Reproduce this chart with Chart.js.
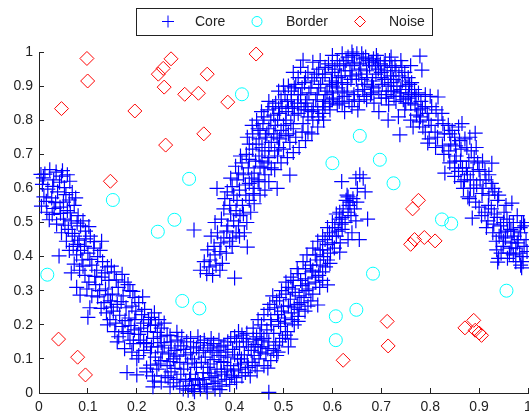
<!DOCTYPE html>
<html>
<head>
<meta charset="utf-8">
<script src="https://cdn.jsdelivr.net/npm/chart.js@4"></script>
<style>
  html, body { margin: 0; padding: 0; background: #fff; }
  #wrap { width: 529px; height: 412px; }
</style>
</head>
<body>
<div id="wrap"><canvas id="dataChart" width="529" height="412"></canvas></div>
<script>
// values, [x, y]
const noisePoints = [
  [.046,.834],[.098,.981],[.0995,.915],[.196,.827],[.244,.935],[.254,.952],[.27,.98],[.256,.897],
  [.259,.727],[.298,.876],[.326,.879],[.344,.935],[.337,.76],[.386,.853],[.444,.994],[.146,.621],
  [.04,.158],[.079,.105],[.095,.053],[.622,.096],[.712,.21],[.714,.138],[.76,.436],[.768,.45],
  [.788,.456],[.81,.446],[.764,.54],[.776,.565],[.871,.191],[.889,.213],[.892,.184],[.9,.176],[.905,.169]
];
const borderPoints = [
  [.415,.876],[.307,.628],[.151,.566],[.656,.754],[.6,.674],[.697,.684],[.725,.615],[.017,.347],
  [.243,.473],[.277,.508],[.293,.27],[.328,.248],[.683,.35],[.649,.244],[.607,.225],[.607,.155],
  [.824,.509],[.843,.497],[.956,.3]
];
// lower band of the core cloud, left to right
const coreLower = [
  [.004,.641],[.012,.642],[.022,.655],[.035,.648],[.048,.652],[.058,.64],[.007,.612],[.018,.598],[.03,.625],[.042,.618],
  [.052,.602],[.063,.621],[.068,.588],[.01,.575],[.026,.572],[.038,.59],[.05,.56],[.062,.566],[.005,.548],[.016,.53],
  [.031,.541],[.044,.527],[.058,.535],[.072,.55],[.021,.508],[.036,.495],[.05,.51],[.066,.505],[.08,.52],[.046,.47],
  [.06,.48],[.073,.46],[.085,.49],[.095,.475],[.041,.402],[.056,.445],[.07,.43],[.082,.448],[.093,.43],[.105,.46],
  [.077,.405],[.088,.39],[.1,.41],[.112,.425],[.12,.4],[.128,.445],[.066,.352],[.083,.36],[.094,.345],[.108,.375],
  [.118,.36],[.13,.385],[.14,.37],[.102,.325],[.116,.318],[.128,.34],[.143,.33],[.154,.355],[.108,.285],[.124,.3],
  [.136,.305],[.15,.29],[.162,.31],[.175,.325],[.133,.265],[.146,.27],[.16,.26],[.172,.285],[.186,.3],[.196,.28],
  [.138,.235],[.152,.24],[.165,.228],[.178,.25],[.19,.255],[.204,.265],[.216,.245],[.157,.205],[.17,.195],[.184,.22],
  [.196,.215],[.21,.23],[.224,.215],[.236,.235],[.163,.165],[.182,.175],[.195,.185],[.208,.19],[.222,.18],[.238,.2],
  [.25,.19],[.193,.145],[.207,.155],[.22,.145],[.234,.16],[.248,.165],[.262,.17],[.214,.125],[.228,.118],[.243,.135],
  [.256,.14],[.27,.15],[.284,.155],[.265,.115],[.278,.125],[.29,.138],[.302,.15],[.316,.135],[.33,.148],[.345,.14],
  [.357,.145],[.372,.135],[.386,.15],[.4,.165],[.415,.17],[.249,.095],[.262,.08],[.275,.1],[.288,.09],[.3,.112],
  [.313,.1],[.327,.118],[.34,.105],[.354,.12],[.368,.11],[.382,.12],[.396,.128],[.41,.135],[.424,.15],[.438,.158],
  [.22,.062],[.232,.05],[.241,.07],[.258,.05],[.27,.062],[.282,.04],[.296,.07],[.31,.055],[.322,.075],[.336,.06],
  [.35,.085],[.364,.07],[.378,.09],[.392,.08],[.406,.1],[.42,.112],[.434,.125],[.448,.135],[.275,.03],[.288,.02],
  [.3,.035],[.312,.022],[.325,.038],[.338,.025],[.352,.045],[.366,.035],[.38,.055],[.394,.05],[.408,.07],[.422,.06],
  [.436,.09],[.45,.1],[.464,.115],[.305,.008],[.318,.004],[.33,.012],[.344,.003],[.36,.012],[.374,.02],[.39,.025],
  [.404,.032],[.47,.002],[.432,.05],[.446,.065],[.46,.08],[.474,.095],[.486,.11],[.456,.135],[.47,.15],[.484,.14],
  [.498,.16],[.51,.135],[.438,.19],[.452,.175],[.466,.185],[.48,.175],[.494,.195],[.508,.18],[.522,.2],[.448,.215],
  [.46,.23],[.474,.215],[.488,.23],[.502,.22],[.516,.235],[.53,.225],[.544,.24],[.472,.26],[.486,.27],[.5,.255],
  [.514,.275],[.528,.26],[.542,.28],[.556,.27],[.496,.3],[.51,.31],[.524,.295],[.538,.315],[.552,.305],[.566,.325],
  [.58,.33],[.515,.34],[.53,.35],[.545,.335],[.558,.355],[.572,.345],[.586,.37],[.54,.385],[.555,.375],[.568,.39],
  [.582,.4],[.596,.41],[.56,.425],[.575,.42],[.59,.435],[.604,.425],[.616,.44],[.58,.46],[.594,.47],[.608,.46],
  [.62,.48],[.6,.5],[.614,.51],[.626,.5],[.638,.52],[.622,.54],[.634,.55],[.645,.54],[.628,.565],[.642,.57],
  [.651,.6],[.648,.63],[.656,.64],
  // second pass over the same band, the cloud is much denser than one sweep
  [.009,.631],[.028,.606],[.046,.636],[.015,.562],[.034,.558],[.055,.582],[.075,.572],[.027,.524],[.043,.545],[.064,.528],
  [.078,.498],[.053,.492],[.068,.468],[.09,.505],[.102,.488],[.062,.418],[.079,.436],[.096,.452],[.113,.444],[.085,.418],
  [.104,.392],[.125,.418],[.072,.378],[.09,.372],[.114,.342],[.135,.352],[.148,.372],[.098,.305],[.12,.282],[.141,.288],
  [.158,.332],[.17,.348],[.182,.318],[.127,.248],[.148,.252],[.168,.268],[.192,.298],[.212,.282],[.145,.215],[.176,.212],
  [.198,.24],[.214,.205],[.23,.222],[.245,.215],[.172,.18],[.188,.198],[.204,.172],[.228,.198],[.242,.178],[.256,.205],
  [.186,.155],[.214,.148],[.23,.135],[.25,.148],[.268,.168],[.282,.178],[.204,.11],[.238,.105],[.252,.12],[.27,.132],
  [.292,.165],[.31,.16],[.325,.165],[.338,.155],[.352,.16],[.368,.155],[.392,.16],[.408,.18],[.425,.175],[.228,.082],
  [.245,.085],[.268,.092],[.282,.108],[.296,.128],[.31,.118],[.322,.132],[.336,.125],[.35,.132],[.364,.125],[.378,.14],
  [.404,.15],[.418,.16],[.236,.035],[.25,.032],[.264,.045],[.278,.072],[.29,.055],[.304,.085],[.318,.088],[.332,.09],
  [.345,.075],[.358,.098],[.372,.092],[.386,.105],[.4,.112],[.414,.1],[.428,.135],[.442,.142],[.455,.155],[.268,.018],
  [.295,.012],[.308,.04],[.32,.042],[.335,.04],[.348,.058],[.36,.05],[.373,.062],[.385,.07],[.398,.065],[.412,.085],
  [.426,.09],[.44,.11],[.453,.12],[.315,.012],[.328,.025],[.342,.018],[.356,.028],[.37,.01],[.383,.04],[.4,.045],
  [.415,.05],[.428,.075],[.442,.08],[.468,.13],[.48,.125],[.492,.15],[.504,.17],[.515,.158],[.445,.165],[.46,.16],
  [.475,.2],[.49,.21],[.504,.205],[.518,.215],[.532,.245],[.455,.2],[.468,.245],[.482,.25],[.496,.24],[.51,.255],
  [.522,.25],[.536,.265],[.55,.255],[.478,.285],[.492,.28],[.505,.29],[.518,.305],[.532,.285],[.546,.3],[.56,.29],
  [.574,.31],[.505,.325],[.52,.33],[.535,.33],[.55,.32],[.565,.34],[.58,.355],[.595,.38],[.528,.365],[.545,.365],
  [.56,.36],[.575,.375],[.59,.39],[.548,.405],[.565,.405],[.58,.42],[.6,.44],[.57,.445],[.585,.45],[.6,.46],
  [.612,.475],[.59,.485],[.605,.485],[.618,.495],[.608,.525],[.62,.515],[.632,.53],[.615,.53],[.636,.56],[.63,.58],
  // stragglers along the band edges
  [.104,.25],[.1,.222],[.084,.287],[.077,.31],[.16,.15],[.18,.06],[.2,.053],[.233,.018],[.22,.073],[.2,.1],
  [.489,.12],[.468,.073],[.53,.21],[.57,.258],[.59,.317],[.615,.413],[.632,.45],[.655,.45],[.672,.51],[.648,.505],
  [.64,.47],[.632,.575],[.619,.62],[.663,.63],[.667,.59],[.65,.56],[.175,.13],[.19,.12],[.155,.18],[.14,.2]
];
// upper band of the core cloud, left to right
const coreUpper = [
  [.317,.478],[.426,.428],[.4,.337],[.33,.36],[.343,.35],[.355,.345],[.37,.36],[.338,.385],[.35,.39],[.362,.375],
  [.375,.38],[.345,.42],[.358,.43],[.37,.415],[.383,.41],[.395,.43],[.352,.46],[.365,.47],[.378,.455],[.39,.445],
  [.403,.47],[.36,.5],[.373,.51],[.386,.49],[.398,.505],[.411,.52],[.378,.54],[.39,.55],[.403,.535],[.416,.55],
  [.364,.6],[.385,.59],[.398,.58],[.41,.595],[.423,.58],[.392,.63],[.405,.625],[.418,.64],[.43,.615],[.44,.6],
  [.402,.665],[.415,.675],[.428,.66],[.44,.645],[.452,.665],[.426,.75],[.424,.7],[.437,.715],[.45,.695],[.462,.71],
  [.437,.76],[.45,.745],[.463,.75],[.475,.735],[.487,.75],[.445,.8],[.458,.79],[.47,.775],[.483,.785],[.495,.77],
  [.455,.825],[.468,.83],[.48,.815],[.492,.82],[.505,.8],[.47,.855],[.484,.85],[.497,.84],[.51,.835],[.522,.815],
  [.49,.885],[.503,.875],[.516,.86],[.529,.85],[.542,.83],[.51,.9],[.522,.895],[.535,.875],[.548,.86],[.561,.84],
  [.53,.925],[.543,.91],[.556,.895],[.569,.875],[.582,.855],[.55,.94],[.563,.925],[.576,.905],[.589,.885],[.602,.865],
  [.572,.95],[.585,.935],[.598,.915],[.611,.895],[.624,.87],[.592,.965],[.605,.95],[.618,.93],[.631,.905],[.644,.875],
  [.61,.975],[.623,.965],[.636,.945],[.649,.92],[.662,.89],[.632,.985],[.645,.97],[.658,.95],[.671,.925],[.684,.895],
  [.65,.995],[.663,.98],[.676,.96],[.689,.935],[.702,.905],[.668,.985],[.681,.97],[.694,.95],[.707,.92],[.72,.885],
  [.693,.975],[.706,.96],[.719,.93],[.732,.9],[.745,.86],[.717,.975],[.73,.945],[.743,.915],[.756,.88],[.769,.845],
  [.742,.955],[.755,.925],[.768,.89],[.781,.855],[.794,.82],[.758,.905],[.771,.87],[.784,.835],[.797,.8],[.81,.765],
  [.735,.81],[.748,.83],[.76,.8],[.772,.815],[.785,.78],[.798,.745],[.811,.72],[.79,.875],[.803,.84],[.816,.8],
  [.829,.76],[.842,.73],[.824,.82],[.837,.785],[.85,.75],[.863,.715],[.828,.7],[.84,.675],[.853,.695],[.866,.66],
  [.879,.68],[.858,.78],[.871,.745],[.884,.71],[.897,.675],[.85,.635],[.863,.62],[.876,.64],[.889,.6],[.902,.625],
  [.881,.75],[.894,.72],[.907,.68],[.92,.64],[.88,.57],[.893,.56],[.906,.585],[.919,.55],[.932,.59],[.912,.65],
  [.925,.615],[.938,.565],[.951,.53],[.905,.52],[.918,.505],[.931,.525],[.944,.49],[.957,.51],[.97,.475],[.928,.47],
  [.941,.46],[.954,.455],[.967,.44],[.98,.45],[.993,.49],[.936,.42],[.949,.43],[.962,.41],[.975,.425],[.988,.4],
  [.94,.395],[.975,.385],[.985,.375],[.998,.415],[.965,.48],[.978,.52],[.991,.5],[.85,.66],[.868,.6],[.882,.625],
  [.61,.845],[.625,.825],[.64,.84],[.655,.855],[.67,.86],[.685,.85],[.7,.865],[.715,.845],[.73,.855],[.695,.825],
  [.6,.9],[.58,.82],[.56,.8],[.54,.79],[.52,.775],[.505,.755],[.49,.72],[.47,.69],[.55,.765],[.595,.83],
  [.66,.92],[.68,.9],[.7,.94],[.72,.91],[.64,.93],[.62,.91],[.6,.94],[.74,.89],[.76,.85],[.78,.81],
  // second pass, fills the inside of the arc
  [.348,.37],[.36,.405],[.372,.44],[.384,.475],[.396,.455],[.408,.49],[.392,.525],[.405,.565],[.418,.525],[.43,.565],
  [.38,.57],[.395,.605],[.408,.645],[.422,.61],[.435,.63],[.448,.625],[.412,.695],[.43,.685],[.443,.68],[.456,.68],
  [.468,.675],[.43,.73],[.444,.73],[.456,.72],[.47,.72],[.482,.71],[.436,.785],[.452,.77],[.466,.76],[.48,.76],
  [.492,.745],[.448,.775],[.46,.81],[.474,.8],[.488,.8],[.5,.785],[.515,.79],[.478,.84],[.49,.835],[.505,.825],
  [.518,.835],[.53,.82],[.495,.86],[.508,.855],[.522,.84],[.536,.84],[.55,.81],[.5,.9],[.516,.885],[.53,.875],
  [.545,.85],[.558,.825],[.572,.81],[.525,.905],[.538,.895],[.552,.88],[.566,.86],[.58,.84],[.594,.85],[.545,.925],
  [.558,.915],[.572,.895],[.585,.875],[.6,.88],[.614,.855],[.568,.935],[.58,.925],[.594,.905],[.608,.91],[.62,.885],
  [.634,.855],[.585,.955],[.6,.96],[.612,.925],[.626,.945],[.638,.92],[.652,.885],[.615,.96],[.628,.975],[.64,.96],
  [.654,.935],[.666,.905],[.678,.875],[.642,.99],[.656,.965],[.67,.945],[.682,.915],[.695,.885],[.71,.865],[.66,.995],
  [.674,.975],[.688,.96],[.7,.925],[.714,.9],[.726,.87],[.684,.98],[.698,.965],[.712,.945],[.725,.92],[.738,.88],
  [.75,.85],[.708,.975],[.722,.955],[.736,.93],[.75,.9],[.762,.875],[.775,.83],[.728,.96],[.748,.94],[.762,.91],
  [.776,.88],[.79,.84],[.765,.78],[.778,.795],[.79,.765],[.802,.785],[.815,.75],[.825,.725],[.812,.83],[.826,.79],
  [.84,.76],[.852,.725],[.838,.71],[.85,.68],[.862,.68],[.874,.66],[.888,.65],[.845,.77],[.86,.74],[.875,.72],
  [.89,.69],[.9,.655],[.858,.65],[.87,.625],[.882,.6],[.895,.61],[.908,.6],[.92,.58],[.914,.625],[.928,.6],
  [.94,.58],[.955,.55],[.9,.545],[.912,.53],[.925,.54],[.937,.515],[.95,.5],[.962,.5],[.915,.485],[.93,.495],
  [.945,.47],[.958,.475],[.972,.46],[.985,.47],[.935,.445],[.95,.445],[.965,.425],[.978,.44],[.992,.43],[.945,.41],
  [.958,.395],[.97,.405],[.983,.41],[.996,.45],[.97,.5],[.984,.485],[.99,.385],[.665,.87],[.68,.88],[.71,.875],
  [.725,.885],[.74,.87],[.755,.865],[.63,.88],[.645,.86],[.62,.85],[.6,.86],[.585,.84],[.57,.83],[.55,.83],
  // inner side of the rising arm and the outer rim of the arc
  [.41,.46],[.425,.5],[.433,.53],[.44,.555],[.452,.58],[.462,.595],[.47,.62],[.487,.6],[.513,.639],[.482,.655],
  [.495,.675],[.508,.69],[.52,.705],[.532,.72],[.545,.74],[.558,.76],[.57,.78],[.582,.8],[.462,.64],[.475,.66],
  [.488,.695],[.5,.715],[.513,.735],[.525,.75],[.538,.765],[.45,.62],[.438,.585],[.42,.47],[.46,.66],[.51,.76],
  [.52,.94],[.535,.955],[.54,.976],[.56,.97],[.575,.975],[.6,.99],[.62,.995],[.64,1],[.69,.99],[.72,.985],
  [.74,.975],[.76,.96],[.783,.947],[.779,.988],[.652,.83],[.714,.8],[.738,.757],[.795,.733],[.83,.645],[.877,.575],
  [.816,.868],[.865,.79],[.892,.762],[.926,.674],[.967,.557],[.886,.513],[.938,.384],[.987,.367],[.987,.5],[.8,.87]
];
const tickVals = [0, .1, .2, .3, .4, .5, .6, .7, .8, .9, 1];
const legendNames = ['Core', 'Border', 'Noise'];

const toXY = p => ({ x: p[0], y: p[1] });

// legend box of the original figure, marker and label placed by hand
const legendBox = {
  id: 'legendBox',
  afterDraw(chart) {
    const c = chart.ctx;
    const items = [
      { style: 'cross', color: '#0000ff', mx: 168, tx: 195, r: 6, name: legendNames[0] },
      { style: 'circle', color: '#00ffff', mx: 257, tx: 286, r: 5, name: legendNames[1] },
      { style: 'rectRot', color: '#ff0000', mx: 360, tx: 389, r: 5.5, name: legendNames[2] }
    ];
    c.save();
    c.strokeStyle = '#222';
    c.lineWidth = 1;
    c.fillStyle = '#fff';
    c.fillRect(136.5, 8.5, 296, 27);
    c.strokeRect(136.5, 8.5, 296, 27);
    c.font = '14px "Liberation Sans"';
    c.textBaseline = 'middle';
    items.forEach(it => {
      c.strokeStyle = it.color;
      c.fillStyle = 'rgba(0,0,0,0)';
      Chart.helpers.drawPoint(c, { pointStyle: it.style, radius: it.r, borderWidth: 1, rotation: 0 }, it.mx, 21.5);
      c.fillStyle = '#222';
      c.fillText(it.name, it.tx, 22);
    });
    c.restore();
  }
};

const ctx = document.getElementById('dataChart').getContext('2d');

new Chart(ctx, {
  type: 'scatter',
  data: {
    datasets: [
      {
        label: legendNames[0],
        data: coreLower.concat(coreUpper).map(toXY),
        pointStyle: 'cross',
        pointRadius: 7.5,
        pointBorderWidth: 1.2,
        pointBorderColor: '#0000ff',
        pointBackgroundColor: '#0000ff',
        borderColor: '#0000ff',
        backgroundColor: '#0000ff',
        clip: false
      },
      {
        label: legendNames[1],
        data: borderPoints.map(toXY),
        pointStyle: 'circle',
        pointRadius: 6.5,
        pointBorderWidth: 1,
        pointBorderColor: '#00ffff',
        pointBackgroundColor: 'rgba(0,0,0,0)',
        borderColor: '#00ffff',
        backgroundColor: 'rgba(0,0,0,0)',
        clip: false
      },
      {
        label: legendNames[2],
        data: noisePoints.map(toXY),
        pointStyle: 'rectRot',
        pointRadius: 7,
        pointBorderWidth: 1,
        pointBorderColor: '#ff0000',
        pointBackgroundColor: 'rgba(0,0,0,0)',
        borderColor: '#ff0000',
        backgroundColor: 'rgba(0,0,0,0)',
        clip: false
      }
    ]
  },
  options: {
    responsive: false,
    animation: false,
    layout: { autoPadding: false, padding: { top: 52, right: 1, bottom: 0, left: 0 } },
    plugins: { legend: { display: false }, tooltip: { enabled: false } },
    scales: {
      x: {
        type: 'linear',
        min: 0,
        max: 1,
        grid: { drawOnChartArea: false, tickLength: -5, color: '#222' },
        border: { color: '#222' },
        afterBuildTicks: s => { s.ticks = tickVals.map(v => ({ value: v })); },
        afterFit: s => { s.paddingLeft = 0; s.paddingRight = 0; s.height = 19; },
        ticks: { color: '#222', font: { family: '"Liberation Sans"', size: 14 }, padding: 11, maxRotation: 0, callback: v => String(v) }
      },
      y: {
        type: 'linear',
        min: 0,
        max: 1,
        grid: { drawOnChartArea: false, tickLength: -5, color: '#222' },
        border: { color: '#222' },
        afterBuildTicks: s => { s.ticks = tickVals.map(v => ({ value: v })); },
        afterFit: s => { s.paddingTop = 0; s.paddingBottom = 0; s.width = 39; },
        ticks: { color: '#222', font: { family: '"Liberation Sans"', size: 14 }, padding: 11, callback: v => String(v) }
      }
    }
  },
  plugins: [legendBox]
});
</script>
</body>
</html>
